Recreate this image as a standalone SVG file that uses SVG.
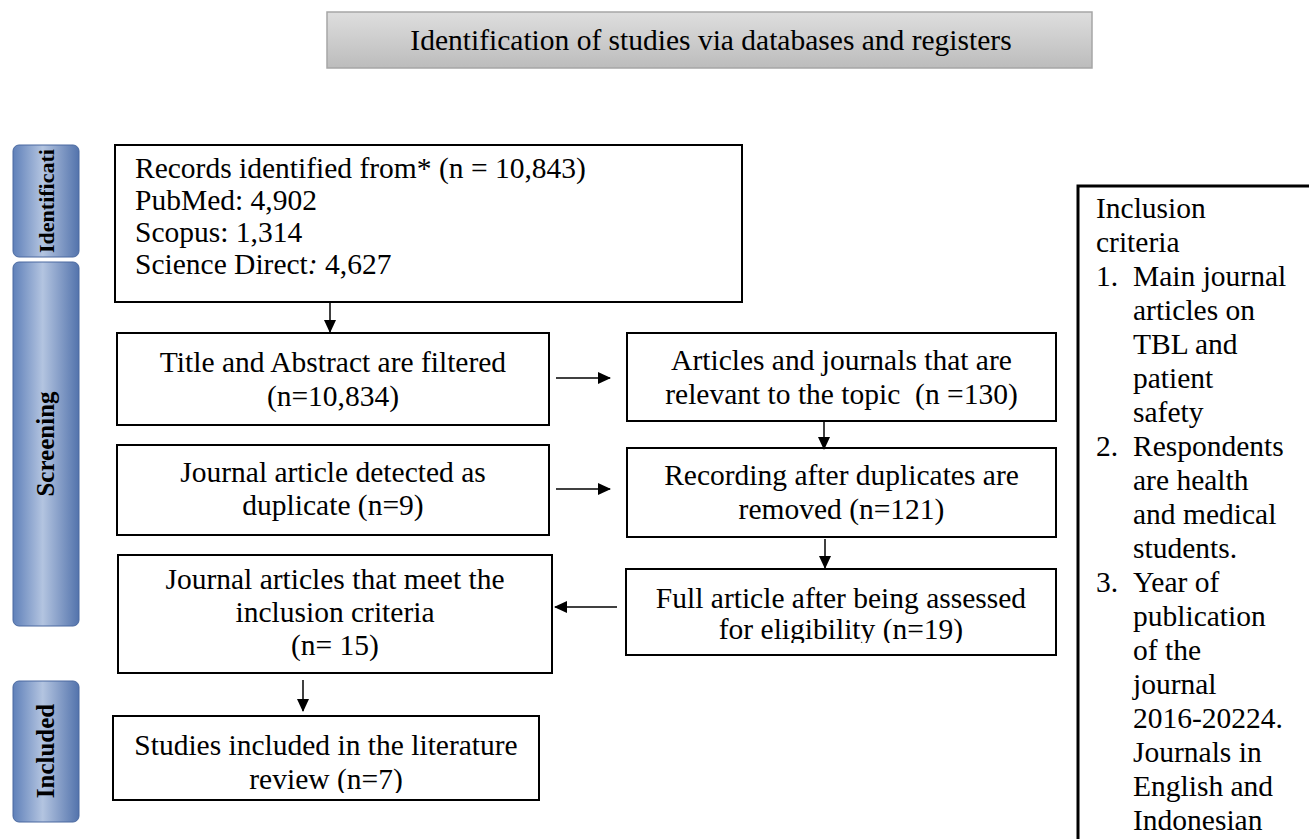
<svg xmlns="http://www.w3.org/2000/svg" width="1309" height="839" viewBox="0 0 1309 839">
<defs>
<linearGradient id="gTitle" x1="0" y1="0" x2="0" y2="1">
<stop offset="0" stop-color="#dedede"/>
<stop offset="1" stop-color="#bcbcbc"/>
</linearGradient>
<linearGradient id="gSide" x1="0" y1="0" x2="1" y2="0">
<stop offset="0" stop-color="#5f80b9"/>
<stop offset="0.45" stop-color="#b3c4e0"/>
<stop offset="1" stop-color="#5373ac"/>
</linearGradient>
<marker id="ah" markerWidth="13" markerHeight="12" refX="12" refY="6" orient="auto" markerUnits="userSpaceOnUse">
<path d="M0,0 L13,6 L0,12 Z" fill="#000"/>
</marker>
<clipPath id="clipF"><rect x="626" y="569" width="432" height="74"/></clipPath>
<clipPath id="clipH"><rect x="113" y="716" width="428" height="77"/></clipPath>
</defs>
<style>
.t{font-family:"Liberation Serif","Times New Roman",serif;font-size:29.5px;fill:#000}
.c{text-anchor:middle}
.box{fill:#fff;stroke:#000;stroke-width:2}
.side{fill:url(#gSide);stroke:#4a69a0;stroke-width:1}
.sl{font-family:"Liberation Serif","Times New Roman",serif;font-size:24px;font-weight:bold;fill:#000;text-anchor:middle}
.cn{stroke:#000;stroke-width:1.5;fill:none}
</style>

<g id="title">
<rect x="327" y="12" width="765" height="56" fill="url(#gTitle)" stroke="#a6a6a6" stroke-width="1.5"/>
<text class="t c" x="711" y="50">Identification of studies via databases and registers</text>
</g>

<g id="side-identification">
<rect class="side" x="13" y="145" width="66" height="112" rx="6"/>
<text class="sl" transform="translate(54,201) rotate(-90)" style="font-size:22px">Identificati</text>
</g>
<g id="side-screening">
<rect class="side" x="13" y="262" width="66" height="364" rx="6"/>
<text class="sl" transform="translate(54,444) rotate(-90)" style="font-size:25px">Screening</text>
</g>
<g id="side-included">
<rect class="side" x="13" y="681" width="66" height="141" rx="6"/>
<text class="sl" transform="translate(54,751) rotate(-90)" style="font-size:25px">Included</text>
</g>

<g id="records">
<rect class="box" x="115" y="145" width="627" height="157"/>
<text class="t" x="135" y="178">Records identified from* (n = 10,843)</text>
<text class="t" x="135" y="210">PubMed: 4,902</text>
<text class="t" x="135" y="242">Scopus: 1,314</text>
<text class="t" x="135" y="274">Science Direct<tspan font-style="italic">:</tspan> 4,627</text>
</g>

<g id="title-abstract">
<rect class="box" x="117" y="333" width="432" height="92"/>
<text class="t c" x="333" y="372">Title and Abstract are filtered</text>
<text class="t c" x="333" y="406">(n=10,834)</text>
</g>

<g id="relevant">
<rect class="box" x="627" y="333" width="429" height="88"/>
<text class="t c" x="841.5" y="370">Articles and journals that are</text>
<text class="t c" x="841.5" y="404" xml:space="preserve">relevant to the topic  (n =130)</text>
</g>

<g id="duplicate">
<rect class="box" x="117" y="445" width="432" height="90"/>
<text class="t c" x="333" y="482">Journal article detected as</text>
<text class="t c" x="333" y="515">duplicate (n=9)</text>
</g>

<g id="after-duplicates">
<rect class="box" x="627" y="448" width="429" height="89"/>
<text class="t c" x="841.5" y="485">Recording after duplicates are</text>
<text class="t c" x="841.5" y="519">removed (n=121)</text>
</g>

<g id="full-article">
<rect class="box" x="626" y="569" width="430" height="86"/>
<g clip-path="url(#clipF)">
<text class="t c" x="841" y="608">Full article after being assessed</text>
<text class="t c" x="841" y="639">for eligibility (n=19)</text>
</g>
</g>

<g id="meet-criteria">
<rect class="box" x="118" y="555" width="434" height="118"/>
<text class="t c" x="335" y="589">Journal articles that meet the</text>
<text class="t c" x="335" y="622">inclusion criteria</text>
<text class="t c" x="335" y="655">(n= 15)</text>
</g>

<g id="included-studies">
<rect class="box" x="113" y="716" width="426" height="84"/>
<g clip-path="url(#clipH)">
<text class="t c" x="326" y="755">Studies included in the literature</text>
<text class="t c" x="326" y="789">review (n=7)</text>
</g>
</g>

<g id="inclusion-criteria">
<path d="M1310,186 H1078 V845" fill="none" stroke="#000" stroke-width="3"/>
<text class="t" x="1096" y="218">Inclusion</text>
<text class="t" x="1096" y="252">criteria</text>
<text class="t" x="1096" y="286">1.</text><text class="t" x="1133" y="286">Main journal</text>
<text class="t" x="1133" y="320">articles on</text>
<text class="t" x="1133" y="354">TBL and</text>
<text class="t" x="1133" y="388">patient</text>
<text class="t" x="1133" y="422">safety</text>
<text class="t" x="1096" y="456">2.</text><text class="t" x="1133" y="456">Respondents</text>
<text class="t" x="1133" y="490">are health</text>
<text class="t" x="1133" y="524">and medical</text>
<text class="t" x="1133" y="558">students.</text>
<text class="t" x="1096" y="592">3.</text><text class="t" x="1133" y="592">Year of</text>
<text class="t" x="1133" y="626">publication</text>
<text class="t" x="1133" y="660">of the</text>
<text class="t" x="1133" y="694">journal</text>
<text class="t" x="1133" y="728">2016-20224.</text>
<text class="t" x="1133" y="762">Journals in</text>
<text class="t" x="1133" y="796">English and</text>
<text class="t" x="1133" y="830">Indonesian</text>
</g>

<g id="connectors">
<line class="cn" x1="330" y1="302" x2="330" y2="332" marker-end="url(#ah)"/>
<line class="cn" x1="556" y1="378" x2="610" y2="378" marker-end="url(#ah)"/>
<line class="cn" x1="824" y1="421" x2="824" y2="449" marker-end="url(#ah)"/>
<line class="cn" x1="556" y1="489" x2="610" y2="489" marker-end="url(#ah)"/>
<line class="cn" x1="825" y1="539" x2="825" y2="568" marker-end="url(#ah)"/>
<line class="cn" x1="617" y1="607" x2="555" y2="607" marker-end="url(#ah)"/>
<line class="cn" x1="303" y1="680" x2="303" y2="711" marker-end="url(#ah)"/>
</g>
</svg>
